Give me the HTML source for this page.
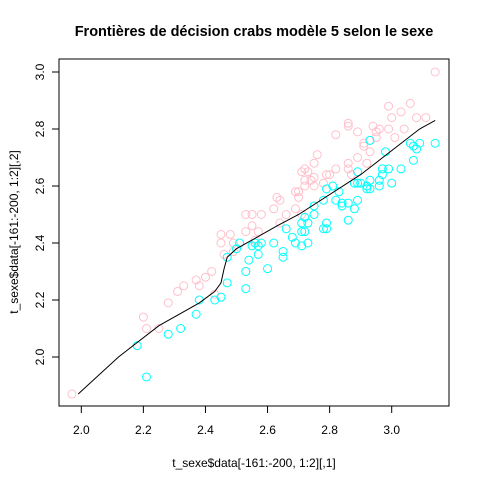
<!DOCTYPE html>
<html><head><meta charset="utf-8"><style>
body{margin:0;background:#fff}
svg{display:block;font-family:"Liberation Sans",sans-serif}
</style></head><body>
<svg id="chart" width="480" height="480"></svg>
<script>
const pinkX=[1.97,2.20,2.21,2.25,2.28,2.31,2.33,2.37,2.38,2.40,2.42,2.43,2.45,2.48,2.45,2.49,2.46,2.49,2.53,2.55,2.57,2.56,2.53,2.53,2.55,2.58,2.62,2.63,2.64,2.66,2.64,2.69,2.69,2.70,2.70,2.72,2.72,2.71,2.72,2.73,2.74,2.75,2.75,2.76,2.75,2.78,2.79,2.80,2.82,2.82,2.86,2.86,2.86,2.86,2.89,2.89,2.91,2.91,2.92,2.93,2.94,2.95,2.96,2.95,2.99,3.00,2.99,3.01,3.03,3.04,3.06,3.08,3.14,2.71,2.87,2.93,3.11];
const pinkY=[1.87,2.14,2.10,2.10,2.19,2.23,2.25,2.27,2.25,2.28,2.30,2.22,2.43,2.43,2.40,2.40,2.36,2.37,2.44,2.46,2.44,2.41,2.30,2.50,2.50,2.50,2.52,2.56,2.55,2.50,2.47,2.52,2.58,2.58,2.56,2.60,2.62,2.65,2.66,2.65,2.62,2.60,2.63,2.71,2.68,2.61,2.64,2.64,2.66,2.78,2.82,2.81,2.68,2.66,2.79,2.70,2.75,2.74,2.68,2.72,2.81,2.79,2.80,2.77,2.88,2.84,2.80,2.77,2.86,2.80,2.89,2.84,3.00,2.50,2.64,2.76,2.84];
const cyanX=[2.18,2.21,2.28,2.32,2.37,2.38,2.43,2.45,2.47,2.47,2.50,2.51,2.53,2.53,2.54,2.55,2.56,2.57,2.58,2.57,2.60,2.62,2.65,2.65,2.66,2.68,2.69,2.71,2.72,2.71,2.73,2.71,2.72,2.73,2.75,2.75,2.78,2.79,2.78,2.79,2.79,2.81,2.82,2.83,2.84,2.84,2.86,2.88,2.89,2.86,2.89,2.88,2.89,2.90,2.92,2.92,2.93,2.93,2.96,2.96,2.97,2.97,2.99,3.00,3.03,2.98,2.93,3.06,3.07,3.08,3.07,3.09,3.14];
const cyanY=[2.04,1.93,2.08,2.10,2.15,2.20,2.20,2.21,2.26,2.35,2.38,2.40,2.24,2.30,2.34,2.39,2.40,2.39,2.40,2.36,2.31,2.40,2.37,2.35,2.45,2.42,2.40,2.44,2.44,2.39,2.40,2.47,2.49,2.47,2.50,2.53,2.55,2.47,2.45,2.45,2.59,2.60,2.55,2.58,2.54,2.53,2.54,2.52,2.55,2.48,2.65,2.61,2.61,2.61,2.60,2.59,2.59,2.62,2.60,2.62,2.64,2.66,2.66,2.61,2.66,2.72,2.76,2.75,2.74,2.73,2.69,2.75,2.75];
const boundaryX=[1.99,2.12,2.25,2.38,2.43,2.45,2.46,2.47,2.50,2.55,2.63,2.70,2.90,3.09,3.14];
const boundaryY=[1.87,2.00,2.11,2.19,2.23,2.26,2.31,2.35,2.38,2.41,2.46,2.50,2.64,2.80,2.83];
const xTicks=[2.0,2.2,2.4,2.6,2.8,3.0];
const yTicks=[2.0,2.2,2.4,2.6,2.8,3.0];

const NS="http://www.w3.org/2000/svg";
const svg=document.getElementById('chart');
const sx=v=>81.3+(v-2)*310.4;
const sy=v=>357-(v-2)*285;
function mk(t,a){const e=document.createElementNS(NS,t);for(const k in a)e.setAttribute(k,a[k]);svg.appendChild(e);return e;}

let e;
e=mk('text',{x:254,y:36,'text-anchor':'middle','font-size':'14.5','font-weight':'bold',fill:'#000'});
e.textContent='Frontières de décision crabs modèle 5 selon le sexe';



e=mk('rect',{x:59,y:59,width:390,height:347,fill:'none',stroke:'#000','stroke-width':1});



xTicks.forEach(v=>{
  const x=sx(v);
  e=mk('line',{x1:x,x2:x,y1:406,y2:413,stroke:'#000'});
  
  
  e=mk('text',{x:x,y:434,'text-anchor':'middle','font-size':'12',fill:'#000'});
  e.textContent=v.toFixed(1);
  
  
});
yTicks.forEach(v=>{
  const y=sy(v);
  e=mk('line',{x1:52,x2:59,y1:y,y2:y,stroke:'#000'});
  
  
  e=mk('text',{x:44,y:y,'text-anchor':'middle','font-size':'12',fill:'#000',transform:`rotate(-90 44 ${y})`});
  e.textContent=v.toFixed(1);
  
  
});
e=mk('text',{x:254,y:467,'text-anchor':'middle','font-size':'12',fill:'#000'});
e.textContent='t_sexe$data[-161:-200, 1:2][,1]';


e=mk('text',{x:18,y:232,'text-anchor':'middle','font-size':'12',fill:'#000',transform:'rotate(-90 18 232)'});
e.textContent='t_sexe$data[-161:-200, 1:2][,2]';



pinkX.forEach((v,i)=>{
  e=mk('circle',{cx:sx(v),cy:sy(pinkY[i]),r:4,fill:'none',stroke:'#FFC0CB','stroke-width':1});
  
  
});
cyanX.forEach((v,i)=>{
  e=mk('circle',{cx:sx(v),cy:sy(cyanY[i]),r:4,fill:'none',stroke:'#00FFFF','stroke-width':1});
  
  
});
const d=boundaryX.map((v,i)=>(i?'L':'M')+sx(v).toFixed(1)+' '+sy(boundaryY[i]).toFixed(1)).join(' ');
e=mk('path',{d:d,fill:'none',stroke:'#000','stroke-width':1});


</script>
</body></html>
